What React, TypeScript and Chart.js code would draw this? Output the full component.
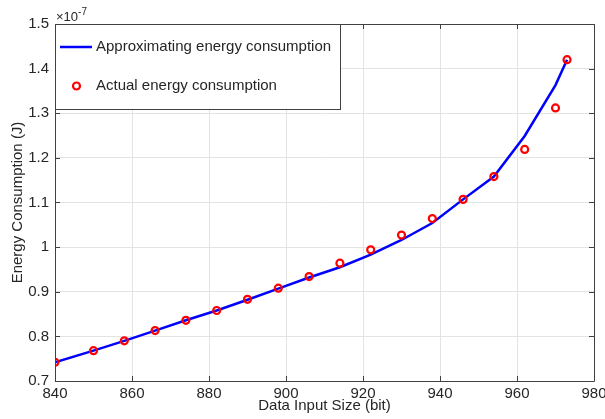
import React, { useEffect, useRef } from "react";
import { Chart, registerables } from "chart.js";

Chart.register(...registerables);

// Data input size (bit)
const inputSizes = [840, 850, 858, 866, 874, 882, 890, 898, 906, 914, 922, 930, 938, 946, 954, 962, 970, 973];
// Energy consumption in units of 1e-7 J
const actualEnergy = [0.742, 0.768, 0.790, 0.813, 0.836, 0.858, 0.883, 0.908, 0.934, 0.964, 0.994, 1.027, 1.064, 1.107, 1.158, 1.219, 1.312, 1.420];
const approxEnergy = [0.742, 0.768, 0.790, 0.813, 0.836, 0.858, 0.882, 0.907, 0.932, 0.955, 0.983, 1.016, 1.054, 1.107, 1.158, 1.249, 1.363, 1.420];

const xTicks = [840, 860, 880, 900, 920, 940, 960, 980];
const yTicks = [0.7, 0.8, 0.9, 1.0, 1.1, 1.2, 1.3, 1.4, 1.5];
const yTickLabels = ["0.7", "0.8", "0.9", "1", "1.1", "1.2", "1.3", "1.4", "1.5"];
const xTickLabels = ["840", "860", "880", "900", "920", "940", "960", "980"];

const seriesNames = ["Approximating energy consumption", "Actual energy consumption"];
const exponentBase = "\u00d710";
const exponentPower = "-7";

const FONT = "'Liberation Sans', Arial, Helvetica, sans-serif";
const TEXT = "#262626";
const AXIS = "#404040";
const GRID = "#e3e3e3";

const framePlugin = {
  id: "matlabFrame",
  afterDraw(chart: any) {
    const { ctx, chartArea } = chart;
    const { left, right, top, bottom } = chartArea;
    const xs = chart.scales.x;
    const ys = chart.scales.y;
    ctx.save();
    // frame
    ctx.strokeStyle = AXIS;
    ctx.lineWidth = 1;
    ctx.beginPath();
    ctx.rect(Math.round(left) + 0.5, Math.round(top) + 0.5, Math.round(right - left), Math.round(bottom - top));
    ctx.stroke();
    // inward ticks
    const tl = 5;
    ctx.beginPath();
    xTicks.forEach((v) => {
      const px = Math.round(xs.getPixelForValue(v)) + 0.5;
      ctx.moveTo(px, bottom);
      ctx.lineTo(px, bottom - tl);
      ctx.moveTo(px, top);
      ctx.lineTo(px, top + tl);
    });
    yTicks.forEach((v) => {
      const py = Math.round(ys.getPixelForValue(v)) + 0.5;
      ctx.moveTo(left, py);
      ctx.lineTo(left + tl, py);
      ctx.moveTo(right, py);
      ctx.lineTo(right - tl, py);
    });
    ctx.stroke();

    // exponent label
    ctx.fillStyle = TEXT;
    ctx.textAlign = "left";
    ctx.textBaseline = "alphabetic";
    ctx.font = `13px ${FONT}`;
    ctx.fillText(exponentBase, left + 1, top - 3);
    const w = ctx.measureText(exponentBase).width;
    ctx.font = `10px ${FONT}`;
    ctx.fillText(exponentPower, left + 1 + w, top - 9);

    // legend
    const lx = Math.round(left) + 0.5;
    const ly = Math.round(top) + 0.5;
    const lw = 285;
    const lh = 85;
    ctx.fillStyle = "#ffffff";
    ctx.fillRect(lx, ly, lw, lh);
    ctx.strokeStyle = AXIS;
    ctx.lineWidth = 1;
    ctx.strokeRect(lx, ly, lw, lh);
    const ds0 = chart.data.datasets[0];
    const ds1 = chart.data.datasets[1];
    const row1 = top + 23;
    const row2 = top + 62;
    ctx.strokeStyle = ds0.borderColor;
    ctx.lineWidth = ds0.borderWidth;
    ctx.beginPath();
    ctx.moveTo(left + 5, row1);
    ctx.lineTo(left + 37, row1);
    ctx.stroke();
    ctx.strokeStyle = ds1.borderColor;
    ctx.lineWidth = ds1.borderWidth;
    ctx.beginPath();
    ctx.arc(left + 21.5, row2, ds1.pointRadius, 0, Math.PI * 2);
    ctx.stroke();
    ctx.fillStyle = TEXT;
    ctx.font = `15px ${FONT}`;
    ctx.textBaseline = "middle";
    ctx.fillText(seriesNames[0], left + 41, row1);
    ctx.fillText(seriesNames[1], left + 41, row2);
    ctx.restore();
  },
};

export default function App() {
  const ref = useRef<HTMLCanvasElement | null>(null);
  useEffect(() => {
    if (!ref.current) return;
    const chart = new Chart(ref.current, {
      type: "line",
      data: {
        datasets: [
          {
            label: seriesNames[0],
            data: inputSizes.map((x, i) => ({ x, y: approxEnergy[i] })),
            borderColor: "#0000ff",
            borderWidth: 2.5,
            pointRadius: 0,
            tension: 0,
            fill: false,
            order: 2,
          },
          {
            label: seriesNames[1],
            data: inputSizes.map((x, i) => ({ x, y: actualEnergy[i] })),
            borderColor: "#ff0000",
            backgroundColor: "rgba(0,0,0,0)",
            showLine: false,
            pointRadius: 3.5,
            pointBorderWidth: 2.2,
            pointBackgroundColor: "rgba(0,0,0,0)",
            pointBorderColor: "#ff0000",
            borderWidth: 2.2,
            order: 1,
          },
        ],
      },
      options: {
        animation: false,
        responsive: false,
        maintainAspectRatio: false,
        layout: { padding: { top: 24, right: 11, left: 0, bottom: 0 } },
        plugins: { legend: { display: false }, tooltip: { enabled: false } },
        scales: {
          x: {
            type: "linear",
            min: 840,
            max: 980,
            afterBuildTicks: (s: any) => {
              s.ticks = xTicks.map((v) => ({ value: v }));
            },
            afterFit: (s: any) => {
              s.height = 38;
              s.paddingLeft = 0;
              s.paddingRight = 0;
            },
            grid: { color: GRID, drawTicks: false, lineWidth: 1 },
            border: { display: false },
            ticks: {
              padding: 4,
              color: TEXT,
              font: { family: FONT, size: 15 },
              maxRotation: 0,
              autoSkip: false,
              callback: (v: any) => {
                const i = xTicks.indexOf(Number(v));
                return i >= 0 ? xTickLabels[i] : "";
              },
            },
            title: {
              display: true,
              text: "Data Input Size (bit)",
              color: TEXT,
              font: { family: FONT, size: 15 },
              padding: { top: 0, bottom: 4 },
            },
          },
          y: {
            type: "linear",
            min: 0.7,
            max: 1.5,
            afterBuildTicks: (s: any) => {
              s.ticks = yTicks.map((v) => ({ value: v }));
            },
            afterFit: (s: any) => {
              s.width = 55;
              s.paddingTop = 0;
              s.paddingBottom = 0;
            },
            grid: { color: GRID, drawTicks: false, lineWidth: 1 },
            border: { display: false },
            ticks: {
              padding: 6,
              color: TEXT,
              font: { family: FONT, size: 15 },
              autoSkip: false,
              callback: (v: any) => {
                const i = yTicks.findIndex((t) => Math.abs(t - Number(v)) < 1e-9);
                return i >= 0 ? yTickLabels[i] : "";
              },
            },
            title: {
              display: true,
              text: "Energy Consumption (J)",
              color: TEXT,
              font: { family: FONT, size: 15 },
              padding: { top: 8.5, bottom: 0 },
            },
          },
        },
      },
      plugins: [framePlugin],
    } as any);
    return () => chart.destroy();
  }, []);
  return (
    <div style={{ position: "fixed", left: 0, top: 0, width: 605, height: 419, background: "#fff" }}>
      <canvas ref={ref} width={605} height={419} style={{ width: 605, height: 419, display: "block" }} />
    </div>
  );
}
